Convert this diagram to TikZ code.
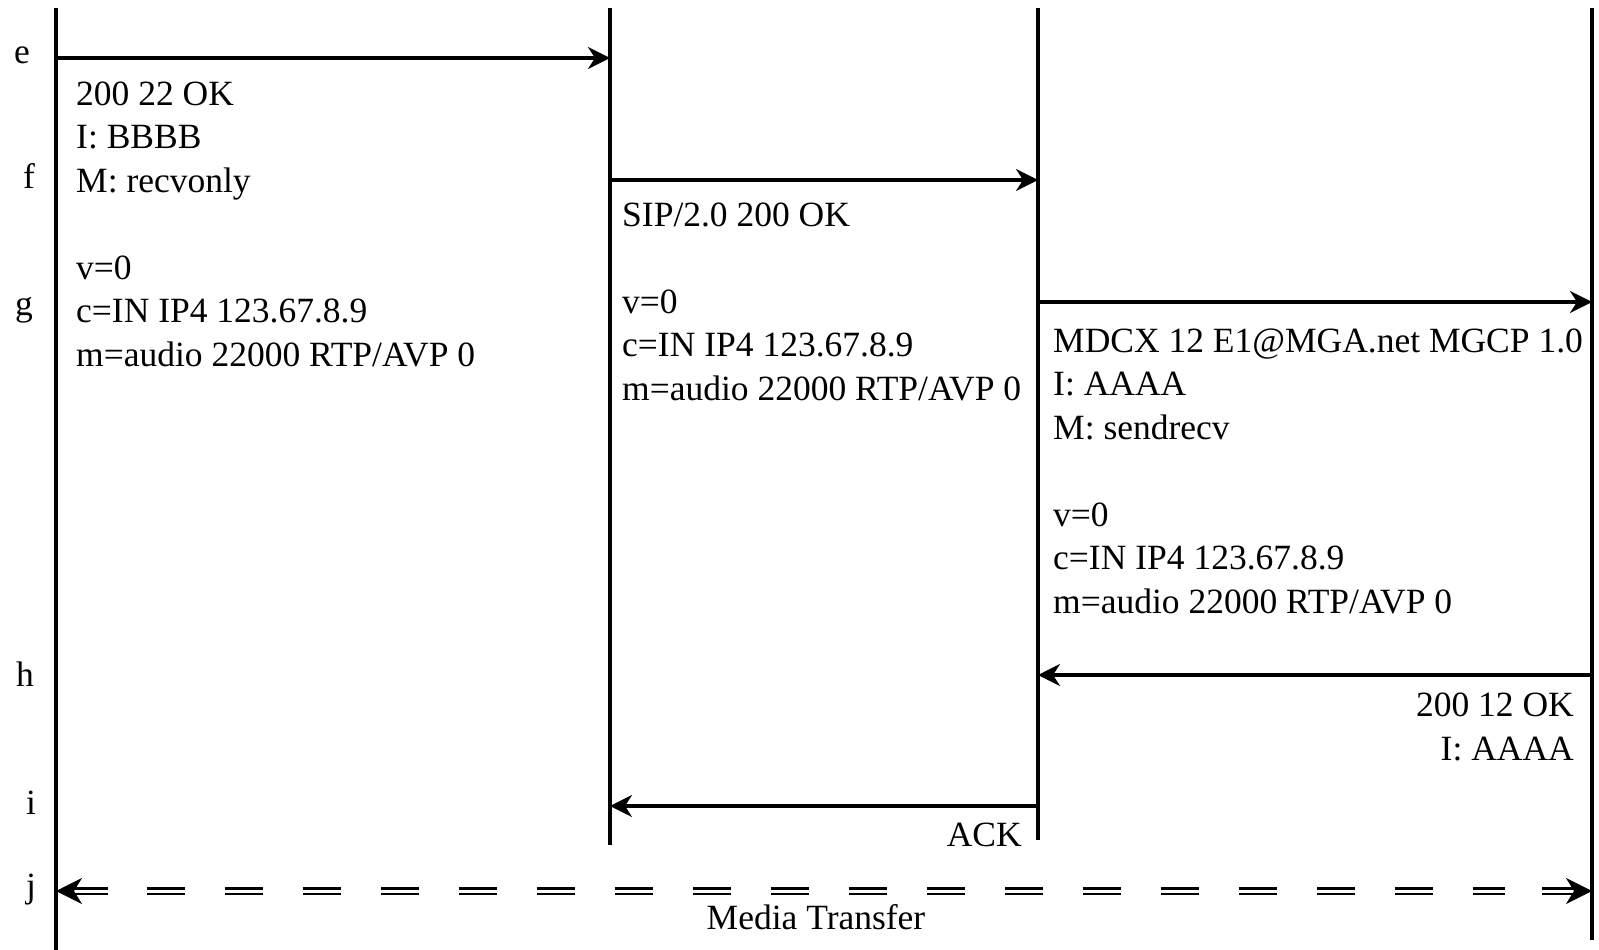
\documentclass[tikz,border=0pt]{standalone}
\usepackage{fontspec}
\setmainfont{Liberation Serif}
\usetikzlibrary{arrows.meta}
\begin{document}
\begin{tikzpicture}[x=1pt,y=-1pt,
  lifeline/.style={line width=4pt},
  msg/.style={line width=3.4pt,-{Stealth[length=22pt,width=22pt,inset=7pt]}},
  msgtxt/.style={font=\fontsize{35.5}{43.5}\selectfont, inner sep=0pt, align=left},
  rowlabel/.style={font=\fontsize{35.5}{43.5}\selectfont, inner sep=0pt, anchor=base},
  mediadbl/.style={line width=2.4pt, double=white, double distance=3pt},
  mediatip/.style={mediadbl,-{Stealth[length=26pt,width=26pt,inset=8pt]}}
]
\useasboundingbox (0,0) rectangle (1599,950);
% lifelines
\coordinate (L1t) at (56,8);   \coordinate (L1b) at (56,950);
\coordinate (L2t) at (610,8);  \coordinate (L2b) at (610,845);
\coordinate (L3t) at (1038,8); \coordinate (L3b) at (1038,840);
\coordinate (L4t) at (1592,8); \coordinate (L4b) at (1592,940);
\draw[lifeline] (L1t) -- (L1b);
\draw[lifeline] (L2t) -- (L2b);
\draw[lifeline] (L3t) -- (L3b);
\draw[lifeline] (L4t) -- (L4b);
% row positions
\coordinate (re) at (0,58);
\coordinate (rf) at (0,180);
\coordinate (rg) at (0,302);
\coordinate (rh) at (0,675);
\coordinate (ri) at (0,806);
\coordinate (rj) at (0,891);
% messages
\draw[msg] (L1t |- re) -- (L2t |- re);
\draw[msg] (L2t |- rf) -- (L3t |- rf);
\draw[msg] (L3t |- rg) -- (L4t |- rg);
\draw[msg] (L4t |- rh) -- (L3t |- rh);
\draw[msg] (L3t |- ri) -- (L2t |- ri);
% media transfer
\coordinate (m1) at (L1t |- rj);
\coordinate (m4) at (L4t |- rj);
\draw[mediatip] ([xshift=52pt]m1) -- (m1);
\draw[mediatip] ([xshift=-50pt]m4) -- (m4);
\draw[mediadbl, dash pattern=on 38pt off 40pt] ([xshift=91pt]m1) -- ([xshift=-87pt]m4);
\node[msgtxt, anchor=base] (mt) at (816,929) {Media Transfer};
% row labels
\node[rowlabel] (le) at (22,64) {e};
\node[rowlabel] (lf) at (29,188) {f};
\node[rowlabel] (lg) at (24,315) {g};
\node[rowlabel] (lh) at (25,686) {h};
\node[rowlabel] (li) at (31,814) {i};
\node[rowlabel] (lj) at (31,897) {j};
% message texts (base anchor = baseline of last line)
\node[msgtxt, anchor=base west] (t1) at (76,366) {200 22 OK\\ I: BBBB\\ M: recvonly\\[43.5pt] v=0\\ c=IN IP4 123.67.8.9\\ m=audio 22000 RTP/AVP 0};
\node[msgtxt, anchor=base west] (t2) at (622,400) {SIP/2.0 200 OK\\[43.5pt] v=0\\ c=IN IP4 123.67.8.9\\ m=audio 22000 RTP/AVP 0};
\node[msgtxt, anchor=base west] (t3) at (1053,613) {MDCX 12 E1@MGA.net MGCP 1.0\\ I: AAAA\\ M: sendrecv\\[43.5pt] v=0\\ c=IN IP4 123.67.8.9\\ m=audio 22000 RTP/AVP 0};
\node[msgtxt, anchor=base east, align=right] (t4) at (1574,760) {200 12 OK\\ I: AAAA};
\node[msgtxt, anchor=base east] (t5) at (1022,846) {ACK};
\end{tikzpicture}
\end{document}
